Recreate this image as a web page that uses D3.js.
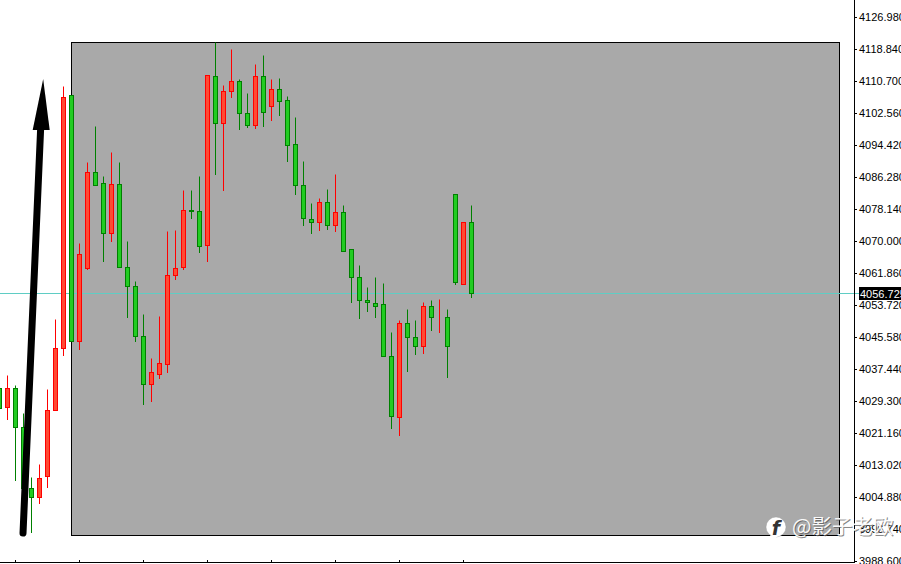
<!DOCTYPE html>
<html><head><meta charset="utf-8">
<style>html,body{margin:0;padding:0;background:#fff;overflow:hidden}svg{display:block}</style>
<script src="https://cdn.jsdelivr.net/npm/d3@7"></script></head><body>
<div id="chart"></div>
<script>
const opens=[4032.61,4027.77,4032.61,4022.69,4007.17,4004.88,4010.22,4027.01,4042.78,4107.14,4044.56,4063.13,4087.55,4084.75,4072.03,4084.50,4063.39,4058.55,4045.83,4033.62,4036.17,4038.71,4061.35,4063.39,4077.89,4077.63,4068.98,4111.97,4100.02,4108.16,4110.70,4102.56,4099.51,4111.97,4104.34,4108.66,4105.87,4094.67,4084.24,4075.60,4074.83,4079.92,4074.07,4077.38,4067.97,4060.84,4054.99,4054.23,4053.97,4040.75,4025.23,4049.14,4045.58,4043.29,4053.47,4050.67,4050.67,4081.96,4059.06,4074.83];
const highs=[4032.61,4035.91,4033.37,4026.25,4009.97,4013.27,4032.35,4050.16,4109.43,4107.14,4069.49,4090.10,4099.25,4086.53,4092.64,4090.10,4070.00,4059.82,4051.43,4040.24,4050.92,4072.54,4072.80,4082.97,4082.97,4086.53,4112.23,4120.62,4109.68,4118.84,4111.21,4107.65,4115.02,4117.31,4111.21,4111.46,4106.88,4101.54,4090.35,4079.67,4080.94,4083.23,4087.04,4079.16,4067.97,4063.89,4058.30,4060.84,4059.32,4046.85,4049.90,4052.70,4049.90,4054.48,4054.99,4055.25,4052.70,4081.96,4074.83,4079.16];
const lows=[4027.52,4024.72,4009.20,4007.17,3995.98,4003.35,4007.42,4027.01,4041.00,4044.56,4042.53,4062.88,4084.24,4064.91,4070.00,4063.39,4050.67,4044.56,4028.54,4029.30,4035.15,4036.68,4060.33,4062.88,4075.85,4067.20,4064.91,4087.04,4082.97,4106.63,4098.49,4099.00,4098.74,4099.25,4100.78,4102.05,4090.35,4081.96,4074.07,4072.03,4072.80,4073.05,4072.54,4067.46,4054.48,4050.41,4052.19,4050.67,4040.75,4022.43,4020.65,4036.93,4041.26,4041.51,4047.36,4046.85,4035.40,4059.06,4059.06,4055.76];
const closes=[4027.52,4032.61,4022.69,4007.17,4004.88,4009.71,4027.01,4042.78,4106.63,4044.56,4066.69,4087.55,4084.24,4072.03,4084.50,4063.39,4058.55,4045.83,4033.62,4036.68,4038.97,4061.35,4063.13,4077.89,4077.63,4068.73,4112.23,4100.02,4108.16,4110.70,4102.56,4099.51,4111.97,4102.81,4108.66,4105.61,4094.42,4084.24,4075.85,4074.83,4079.92,4074.07,4077.38,4067.46,4060.84,4054.99,4054.48,4053.47,4040.75,4025.48,4049.14,4045.58,4043.29,4053.47,4050.67,4050.67,4043.29,4059.57,4074.83,4056.77];
const priceTicks=[4126.98,4118.84,4110.70,4102.56,4094.42,4086.28,4078.14,4070.00,4061.86,4053.72,4045.58,4037.44,4029.30,4021.16,4013.02,4004.88,3996.74,3988.60];
const timeTicks=[2,10,18,26,34,42,50,58];
const lastPrice=4056.725;
const arrowFrom=[2.94,3995.7], arrowTo=[5.46,4111.2];
const watermark="@影子老欧";

const W=901,H=564;
const x=d3.scaleLinear().domain([0,1]).range([-0.5,7.5]);
const y=d3.scaleLinear().domain([4126.98,3988.60]).range([17,561]);
const ry=v=>Math.round(y(v))+0.5;
const svg=d3.select("#chart").append("svg").attr("width",W).attr("height",H).attr("viewBox",`0 0 ${W} ${H}`);

// plot rect
svg.append("rect").attr("x",71.5).attr("y",42.5).attr("width",768).attr("height",493)
  .attr("fill","#a9a9a9").attr("stroke","#000").attr("stroke-width",1);

// last-price line
svg.append("line").attr("x1",0).attr("x2",859).attr("y1",ry(lastPrice)).attr("y2",ry(lastPrice))
  .attr("stroke","#5fcdc4").attr("stroke-width",1);

// candles
const idx=d3.range(opens.length);
const up=i=>closes[i]>=opens[i];
const g=svg.append("g").attr("class","candles");
g.selectAll("line").data(idx).join("line")
  .attr("x1",x).attr("x2",x)
  .attr("y1",i=>ry(highs[i])).attr("y2",i=>ry(lows[i])+0.5)
  .attr("stroke",i=>up(i)?"#ff0000":"#008000").attr("stroke-width",1);
g.selectAll("rect").data(idx).join("rect")
  .attr("x",i=>x(i)-2).attr("width",4)
  .attr("y",i=>ry(Math.max(opens[i],closes[i])))
  .attr("height",i=>Math.max(0,ry(Math.min(opens[i],closes[i]))-ry(Math.max(opens[i],closes[i]))))
  .attr("fill",i=>up(i)?"#ff4a33":"#22cc22")
  .attr("stroke",i=>up(i)?"#ff0000":"#008000").attr("stroke-width",1);

// right axis
const axR=d3.axisRight(y).tickValues(priceTicks).tickSize(3).tickPadding(2).tickFormat(d3.format(".3f"));
const gR=svg.append("g").attr("transform","translate(854,0)").call(axR);
gR.select(".domain").remove();
gR.selectAll("text").attr("font-family","'Liberation Sans',Arial,sans-serif").attr("font-size",11).attr("fill","#000");
gR.selectAll("line").attr("stroke","#000");
svg.append("line").attr("x1",854.5).attr("x2",854.5).attr("y1",0).attr("y2",563).attr("stroke","#000");

// bottom axis
svg.append("line").attr("x1",0).attr("x2",855).attr("y1",562.5).attr("y2",562.5).attr("stroke","#000");
svg.append("g").selectAll("line").data(timeTicks).join("line")
  .attr("x1",x).attr("x2",x).attr("y1",560).attr("y2",562).attr("stroke","#000");

// last-price tag
svg.append("rect").attr("x",859).attr("y",287).attr("width",42).attr("height",13).attr("fill","#000");
svg.append("text").attr("x",860).attr("y",ry(lastPrice)+4).attr("fill","#fff")
  .attr("font-family","'Liberation Sans',Arial,sans-serif").attr("font-size",11).text(lastPrice.toFixed(3));

// arrow annotation
const ax0=x(arrowFrom[0]),ay0=y(arrowFrom[1]),ax1=x(arrowTo[0]),ay1=y(arrowTo[1]);
const arrow=svg.append("g");
arrow.append("line").attr("x1",ax0).attr("y1",ay0).attr("x2",x(arrowTo[0]-0.32)).attr("y2",ay1+50)
  .attr("stroke","#000").attr("stroke-width",7).attr("stroke-linecap","round");
arrow.append("path").attr("fill","#000")
  .attr("d",d3.line()([[ax1,ay1],[ax1+6.5,ay1+51],[ax1-10.5,ay1+51]]));

// watermark
const wm=svg.append("g");
wm.append("circle").attr("cx",776).attr("cy",527).attr("r",10).attr("fill","#fff").attr("stroke","#999").attr("stroke-width",0.4);
wm.append("path").attr("d",d3.line()([[770,535],[773,540],[778,536]])).attr("fill","#fff");
wm.append("text").attr("x",776).attr("y",535).attr("text-anchor","middle")
  .attr("font-family","'DejaVu Sans',sans-serif").attr("font-style","italic").attr("font-weight","bold")
  .attr("font-size",19).attr("fill","#333").text("f");
wm.append("text").attr("x",793).attr("y",535)
  .attr("font-family","'Noto Sans CJK SC',sans-serif").attr("font-size",20.5)
  .attr("fill","#555").attr("fill-opacity",0.7).text(watermark);
wm.append("text").attr("x",792).attr("y",534)
  .attr("font-family","'Noto Sans CJK SC',sans-serif").attr("font-size",20.5)
  .attr("fill","#fff").attr("fill-opacity",0.95).text(watermark);
</script></body></html>
